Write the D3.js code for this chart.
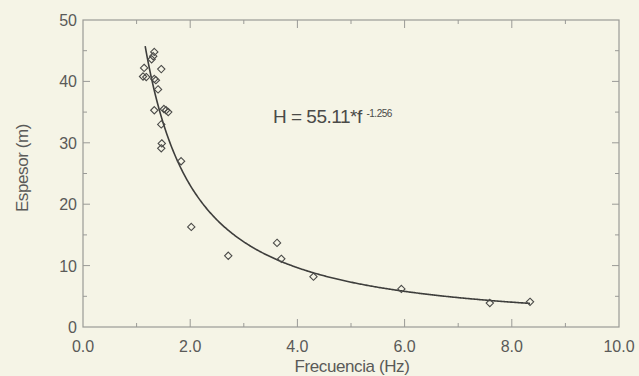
<!DOCTYPE html>
<html lang="es">
<head>
<meta charset="utf-8">
<title>Espesor vs Frecuencia</title>
<script src="https://d3js.org/d3.v7.min.js"></script>
<style>
  body { margin: 0; background: #f5f4e6; }
  svg { display: block; font-family: "Liberation Sans", Arial, sans-serif; }
</style>
</head>
<body>
<div id="chart"></div>
<script>
// measured points (frecuencia Hz, espesor m)
var freq = [1.14, 1.12, 1.18, 1.33, 1.31, 1.28, 1.46, 1.33, 1.36, 1.40, 1.33, 1.51, 1.55, 1.59,
            1.46, 1.47, 1.46, 1.83, 2.02, 2.71, 3.62, 3.70, 4.30, 5.94, 7.59, 8.34];
var espesor = [42.2, 40.8, 40.7, 44.8, 44.1, 43.6, 42.0, 40.4, 40.2, 38.7, 35.3, 35.5, 35.3, 35.0,
               33.0, 29.9, 29.1, 27.0, 16.3, 11.6, 13.7, 11.1, 8.2, 6.2, 3.9, 4.1];
var xTicks = [0, 2, 4, 6, 8, 10];
var yTicks = [0, 10, 20, 30, 40, 50];
var coefA = 55.11, coefB = -1.256;
var fitRange = [1.16, 8.34];

var W = 639, H = 376;
var m = {left: 83, right: 20, top: 20, bottom: 49};
var iw = W - m.left - m.right, ih = H - m.top - m.bottom;
var axisCol = "#9a9a96", textCol = "#5a5a58";

var svg = d3.select("#chart").append("svg").attr("width", W).attr("height", H);
svg.append("rect").attr("width", W).attr("height", H).attr("fill", "#f5f4e6");

var x = d3.scaleLinear().domain([0, 10]).range([m.left, m.left + iw]);
var y = d3.scaleLinear().domain([0, 50]).range([m.top + ih, m.top]);

var g = svg.append("g");

// frame
g.append("rect").attr("x", x(0)).attr("y", y(50)).attr("width", x(10) - x(0)).attr("height", y(0) - y(50))
  .attr("fill", "none").attr("stroke", axisCol).attr("stroke-width", 1.2);

// inward ticks, majors and minors on all four sides
var xMinor = d3.range(1, 10, 2), yMinor = d3.range(5, 50, 10);
function xt(vals, len) {
  vals.forEach(function (v) {
    g.append("line").attr("x1", x(v)).attr("x2", x(v)).attr("y1", y(0)).attr("y2", y(0) - len).attr("stroke", axisCol);
    g.append("line").attr("x1", x(v)).attr("x2", x(v)).attr("y1", y(50)).attr("y2", y(50) + len).attr("stroke", axisCol);
  });
}
function yt(vals, len) {
  vals.forEach(function (v) {
    g.append("line").attr("y1", y(v)).attr("y2", y(v)).attr("x1", x(0)).attr("x2", x(0) + len).attr("stroke", axisCol);
    g.append("line").attr("y1", y(v)).attr("y2", y(v)).attr("x1", x(10)).attr("x2", x(10) - len).attr("stroke", axisCol);
  });
}
xt(xTicks.slice(1, -1), 8); xt(xMinor, 4);
yt(yTicks.slice(1, -1), 7); yt(yMinor, 4);

// tick labels
g.selectAll(".xl").data(xTicks).enter().append("text")
  .attr("x", function (d) { return x(d); }).attr("y", y(0) + 25)
  .attr("text-anchor", "middle").attr("font-size", 16).attr("fill", textCol)
  .text(function (d) { return d.toFixed(1); });
g.selectAll(".yl").data(yTicks).enter().append("text")
  .attr("x", x(0) - 6).attr("y", function (d) { return y(d) + 6; })
  .attr("text-anchor", "end").attr("font-size", 16).attr("fill", textCol)
  .text(function (d) { return d; });

// axis titles
svg.append("text").attr("x", 352).attr("y", 372).attr("text-anchor", "middle")
  .attr("font-size", 17).attr("fill", textCol).attr("letter-spacing", -0.4).text("Frecuencia (Hz)");
svg.append("text").attr("transform", "translate(28,168) rotate(-90)").attr("text-anchor", "middle")
  .attr("font-size", 17).attr("fill", textCol).attr("letter-spacing", -0.4).text("Espesor (m)");

// fitted power curve
var fitX = d3.range(fitRange[0], fitRange[1], 0.02).concat([fitRange[1]]);
var line = d3.line().x(function (d) { return x(d); }).y(function (d) { return y(coefA * Math.pow(d, coefB)); });
g.append("path").datum(fitX).attr("d", line).attr("fill", "none").attr("stroke", "#3e3e3c").attr("stroke-width", 1.6);

// diamonds
var sym = d3.symbol().type(d3.symbolDiamond2).size(34);
g.selectAll(".pt").data(freq).enter().append("path")
  .attr("transform", function (d, i) { return "translate(" + x(d) + "," + y(espesor[i]) + ")"; })
  .attr("d", sym).attr("fill", "none").attr("stroke", "#4a4a48").attr("stroke-width", 1.1);

// equation
var eq = svg.append("text").attr("x", 273).attr("y", 123).attr("font-size", 19).attr("fill", "#4a4a48")
  .attr("letter-spacing", -0.5);
eq.append("tspan").text("H = 55.11*f ");
eq.append("tspan").attr("font-size", 10).attr("dy", -6).text("-1.256");
</script>
</body>
</html>
